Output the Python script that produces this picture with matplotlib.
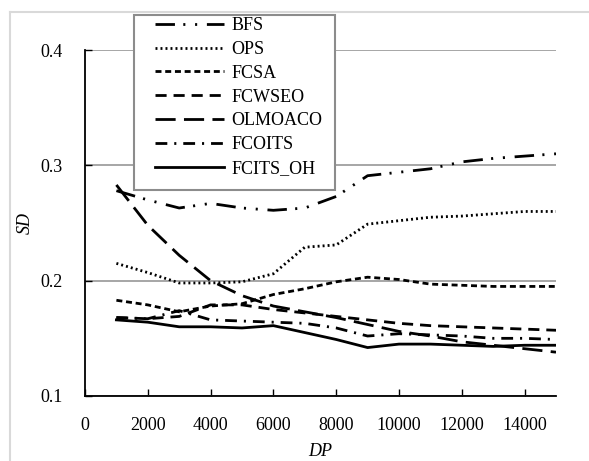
import matplotlib
matplotlib.use("Agg")
import matplotlib.pyplot as plt
from matplotlib.patches import Rectangle
from matplotlib.lines import Line2D

# data
dp = [1000, 2000, 3000, 4000, 5000, 6000, 7000, 8000,
      9000, 10000, 11000, 12000, 13000, 14000, 15000]
bfs = [0.278, 0.270, 0.263, 0.267, 0.263, 0.261, 0.263, 0.273,
       0.291, 0.294, 0.297, 0.303, 0.306, 0.308, 0.310]
ops = [0.215, 0.207, 0.198, 0.198, 0.199, 0.206, 0.229, 0.231,
       0.249, 0.252, 0.255, 0.256, 0.258, 0.260, 0.260]
fcsa = [0.183, 0.179, 0.173, 0.178, 0.180, 0.188, 0.193, 0.199,
        0.203, 0.201, 0.197, 0.196, 0.195, 0.195, 0.195]
fcwseo = [0.168, 0.167, 0.169, 0.179, 0.179, 0.175, 0.172, 0.169,
          0.166, 0.163, 0.161, 0.160, 0.159, 0.158, 0.157]
olmoaco = [0.283, 0.248, 0.222, 0.200, 0.187, 0.178, 0.173, 0.168,
           0.162, 0.156, 0.152, 0.147, 0.144, 0.141, 0.138]
fcoits = [0.168, 0.167, 0.174, 0.166, 0.165, 0.164, 0.163, 0.159,
          0.152, 0.154, 0.153, 0.152, 0.150, 0.150, 0.149]
fcits_oh = [0.166, 0.164, 0.160, 0.160, 0.159, 0.161, 0.155, 0.149,
            0.142, 0.145, 0.145, 0.144, 0.143, 0.144, 0.144]

names = ["BFS", "OPS", "FCSA", "FCWSEO", "OLMOACO", "FCOITS", "FCITS_OH"]
series = [bfs, ops, fcsa, fcwseo, olmoaco, fcoits, fcits_oh]
# dash patterns in points (on, off, ...)
dashes = [
    (14, 6, 1.5, 7, 1.5, 7),
    (1.4, 2.2),
    (4.3, 2.7),
    (8, 5),
    (14.5, 6),
    (8.5, 5, 1.5, 5),
    None,
]

plt.rcParams.update({
    "font.family": "Liberation Serif",
    "font.size": 13,
    "lines.scale_dashes": False,
})

W, H = 589, 461
fig = plt.figure(figsize=(W / 100, H / 100), dpi=100)
fig.patch.set_facecolor("white")

# light chart-area border (only left and top are visible)
fig.add_artist(Line2D([10 / W, 10 / W], [0, 1 - 12 / H], transform=fig.transFigure,
                      color="#d9d9d9", lw=1.5))
fig.add_artist(Line2D([10 / W, 1], [1 - 12 / H, 1 - 12 / H], transform=fig.transFigure,
                      color="#d9d9d9", lw=1.5))

ax = fig.add_axes([85 / W, 1 - 396 / H, (556 - 85) / W, (396 - 50) / H])

handles = []
for name, vals, ds in zip(names, series, dashes):
    if ds is None:
        ln, = ax.plot(dp, vals, color="black", lw=2.0, label=name)
    else:
        ln, = ax.plot(dp, vals, color="black", lw=2.0, label=name,
                      dashes=ds, dash_capstyle="butt")
    handles.append(ln)

ax.set_xlim(0, 15000)
ax.set_ylim(0.1, 0.4)
ax.set_xticks(range(0, 15000, 2000))
ax.set_yticks([0.1, 0.2, 0.3, 0.4])
ax.set_yticklabels(["0.1", "0.2", "0.3", "0.4"])
ax.yaxis.grid(True, color="#a6a6a6", lw=1.4)
ax.set_axisbelow(True)
for s in ["top", "right"]:
    ax.spines[s].set_visible(False)
for s in ["left", "bottom"]:
    ax.spines[s].set_linewidth(1.3)
ax.tick_params(axis="x", direction="in", length=5, width=1, pad=15)
ax.tick_params(axis="y", direction="in", length=5, width=1, pad=16)

ax.set_xlabel("DP", style="italic", fontsize=13)
ax.set_ylabel("SD", style="italic", fontsize=13)
ax.xaxis.set_label_coords(0.5, -(452 - 396) / 346)
ax.yaxis.set_label_coords(-(85 - 25) / 471, 0.5)
ax.xaxis.label.set_va("center")
ax.yaxis.label.set_va("center")

# legend box drawn by hand so the padding matches
fig.add_artist(Rectangle((134 / W, 1 - 190 / H), (335 - 134) / W, (190 - 15) / H,
                         transform=fig.transFigure, facecolor="white",
                         edgecolor="#8c8c8c", lw=1.5, zorder=5))
leg = fig.legend(handles=handles, loc="upper left",
                 bbox_to_anchor=(155 / W, 1 - 17 / H), frameon=False,
                 borderaxespad=0, borderpad=0, handlelength=3.8,
                 handletextpad=0.45, labelspacing=0.38, fontsize=13)
leg.set_zorder(6)

fig.savefig("out.png", dpi=100)
